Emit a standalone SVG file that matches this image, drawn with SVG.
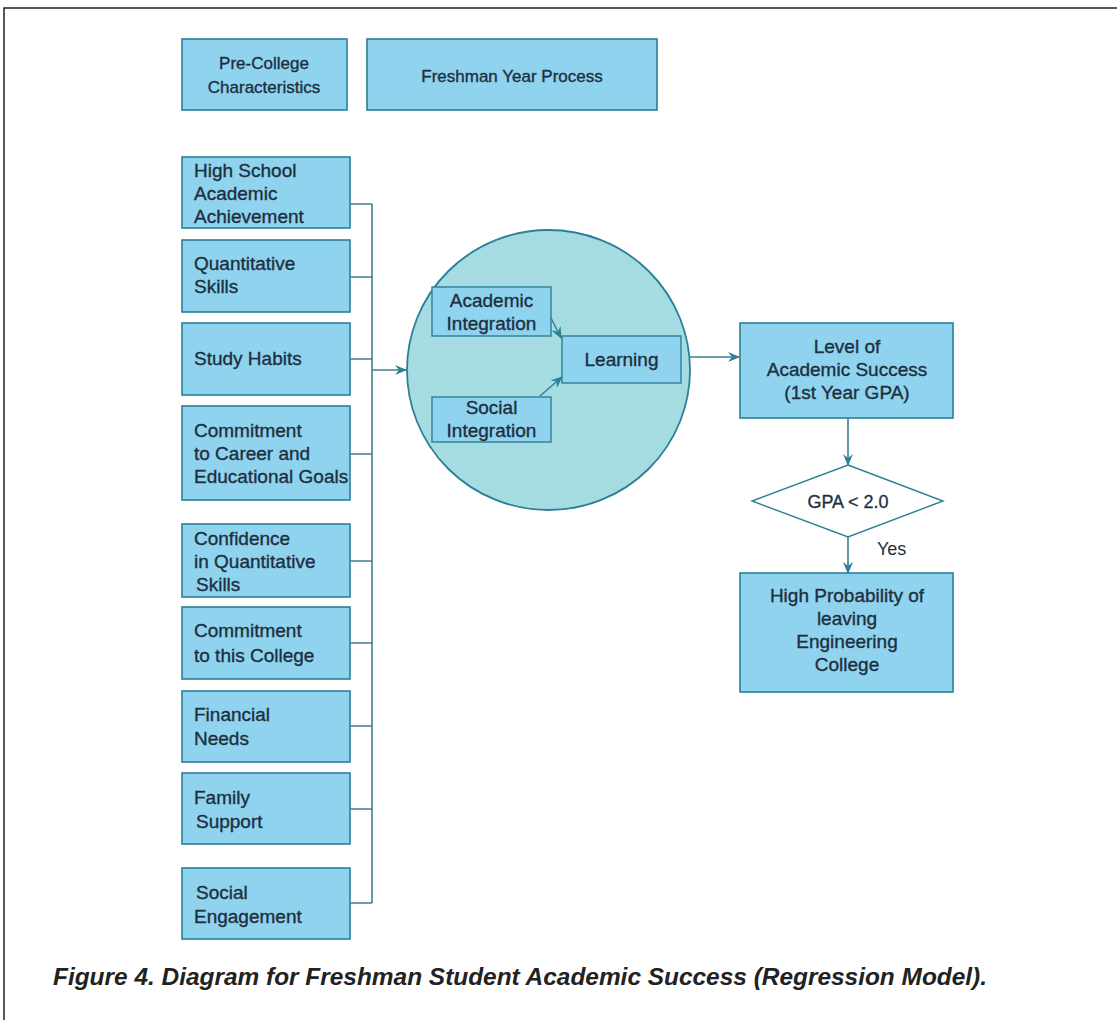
<svg xmlns="http://www.w3.org/2000/svg" width="1117" height="1020" viewBox="0 0 1117 1020">
<style>
.box{fill:#8fd3ee;stroke:#2b7f97;stroke-width:1.6}
.ibox{fill:#8fd3ee;stroke:#2b7f97;stroke-width:1.4}
.t{font-family:"Liberation Sans",Arial,sans-serif;font-size:19px;fill:#1d2f3f;stroke:#1d2f3f;stroke-width:0.35}
.ts{font-family:"Liberation Sans",Arial,sans-serif;font-size:17px;fill:#1d2f3f;stroke:#1d2f3f;stroke-width:0.35}
.c{text-anchor:middle}
.ln{fill:none;stroke:#3f7f90;stroke-width:1.6}
</style>
<defs>
<marker id="ah" viewBox="0 0 12 10" refX="11" refY="5" markerWidth="12" markerHeight="10" markerUnits="userSpaceOnUse" orient="auto">
<path d="M0,0 L12,5 L0,10 L4,5 z" fill="#2b7f97"/>
</marker>
</defs>
<rect width="1117" height="1020" fill="#ffffff"/>
<path d="M4,1020 V8 H1117" fill="none" stroke="#222" stroke-width="1.5"/>

<g id="pre-college">
<rect class="box" x="182" y="39" width="165" height="71"/>
<text class="ts c" x="264" y="69">Pre-College</text>
<text class="ts c" x="264" y="93">Characteristics</text>
</g>
<g id="freshman-year">
<rect class="box" x="367" y="39" width="290" height="71"/>
<text class="ts c" x="512" y="82">Freshman Year Process</text>
</g>

<g id="n1"><rect class="box" x="182" y="157" width="168" height="71"/>
<text class="t" x="194" y="177">High School</text><text class="t" x="194" y="200">Academic</text><text class="t" x="194" y="223">Achievement</text></g>
<g id="n2"><rect class="box" x="182" y="240" width="168" height="72"/>
<text class="t" x="194" y="270">Quantitative</text><text class="t" x="194" y="293">Skills</text></g>
<g id="n3"><rect class="box" x="182" y="323" width="168" height="72"/>
<text class="t" x="194" y="365">Study Habits</text></g>
<g id="n4"><rect class="box" x="182" y="406" width="168" height="94"/>
<text class="t" x="194" y="437">Commitment</text><text class="t" x="194" y="460">to Career and</text><text class="t" x="194" y="483">Educational Goals</text></g>
<g id="n5"><rect class="box" x="182" y="524" width="168" height="73"/>
<text class="t" x="194" y="545">Confidence</text><text class="t" x="194" y="568">in Quantitative</text><text class="t" x="196" y="591">Skills</text></g>
<g id="n6"><rect class="box" x="182" y="607" width="168" height="72"/>
<text class="t" x="194" y="637">Commitment</text><text class="t" x="194" y="662">to this College</text></g>
<g id="n7"><rect class="box" x="182" y="691" width="168" height="71"/>
<text class="t" x="194" y="721">Financial</text><text class="t" x="194" y="745">Needs</text></g>
<g id="n8"><rect class="box" x="182" y="773" width="168" height="71"/>
<text class="t" x="194" y="804">Family</text><text class="t" x="196" y="828">Support</text></g>
<g id="n9"><rect class="box" x="182" y="868" width="168" height="71"/>
<text class="t" x="196" y="899">Social</text><text class="t" x="194" y="923">Engagement</text></g>

<g id="freshman-circle">
<ellipse cx="548.5" cy="370" rx="141.5" ry="140" fill="#a5dce1" stroke="#2b7f97" stroke-width="1.8"/>
</g>
<g id="academic-integration"><rect class="ibox" x="432" y="287" width="119" height="49"/>
<text class="t c" x="491.5" y="307">Academic</text><text class="t c" x="491.5" y="330">Integration</text></g>
<g id="social-integration"><rect class="ibox" x="432" y="397" width="119" height="45"/>
<text class="t c" x="491.5" y="414">Social</text><text class="t c" x="491.5" y="437">Integration</text></g>
<g id="learning"><rect class="ibox" x="562" y="336" width="119" height="47"/>
<text class="t c" x="621.5" y="366">Learning</text></g>

<g id="level"><rect class="box" x="740" y="323" width="213" height="95"/>
<text class="t c" x="847" y="353">Level of</text><text class="t c" x="847" y="376">Academic Success</text><text class="t c" x="847" y="399">(1st Year GPA)</text></g>
<g id="gpa"><polygon points="848,465 943,501 848,537 752,501" fill="#ffffff" stroke="#2b7f97" stroke-width="1.4"/>
<text class="c" x="848" y="508" style="font-family:'Liberation Sans',Arial,sans-serif;font-size:18px;fill:#1d2f3f;stroke:#1d2f3f;stroke-width:0.3">GPA &lt; 2.0</text></g>
<g id="high-prob"><rect class="box" x="740" y="573" width="213" height="119"/>
<text class="t c" x="847" y="602">High Probability of</text><text class="t c" x="847" y="625">leaving</text><text class="t c" x="847" y="648">Engineering</text><text class="t c" x="847" y="671">College</text></g>

<g id="connectors">
<path class="ln" d="M350,204 H372 M350,277 H372 M350,359 H372 M350,454 H372 M350,561 H372 M350,643 H372 M350,726 H372 M350,809 H372 M350,903 H372 M372,204 V903"/>
<path class="ln" d="M372,370 H406" marker-end="url(#ah)"/>
<path class="ln" d="M551,318 L561,338" marker-end="url(#ah)"/>
<path class="ln" d="M540,396 L562,377" marker-end="url(#ah)"/>
<path class="ln" d="M690,357 H739" marker-end="url(#ah)"/>
<path class="ln" d="M848,418 V465" marker-end="url(#ah)"/>
<path class="ln" d="M848,537 V573" marker-end="url(#ah)"/>
<text x="877" y="555" style="font-family:'Liberation Sans',Arial,sans-serif;font-size:18px;fill:#1d2f3f">Yes</text>
</g>

<text x="53" y="985" textLength="934" lengthAdjust="spacingAndGlyphs" style="font-family:'Liberation Sans',Arial,sans-serif;font-size:23px;font-weight:bold;font-style:italic;fill:#222">Figure 4. Diagram for Freshman Student Academic Success (Regression Model).</text>
</svg>
